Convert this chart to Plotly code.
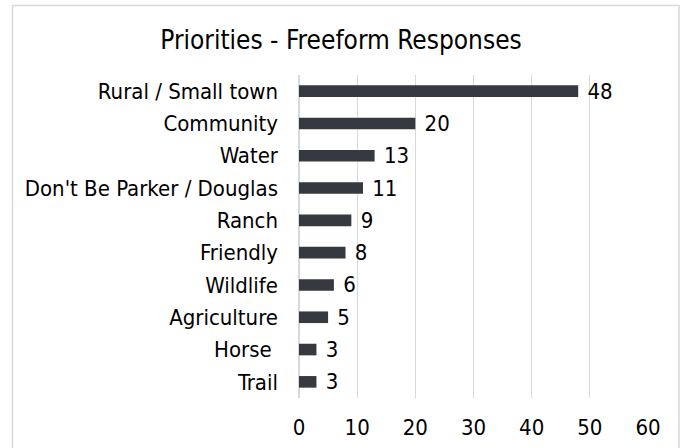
import plotly.graph_objects as go

categories = ["Rural / Small town", "Community", "Water", "Don't Be Parker / Douglas",
              "Ranch", "Friendly", "Wildlife", "Agriculture", "Horse ", "Trail"]
counts = [48, 20, 13, 11, 9, 8, 6, 5, 3, 3]
x_ticks = [0, 10, 20, 30, 40, 50, 60]

FONT = "DejaVu Sans Condensed, Liberation Sans Narrow, sans-serif"
BAR = "#343a40"

fig = go.Figure(go.Bar(
    x=counts, y=categories, orientation="h",
    marker=dict(color=BAR, line=dict(width=0)),
    width=0.36,
    text=[" " + str(v) for v in counts], textposition="outside",
    constraintext="none",
    textfont=dict(family=FONT, size=22, color="#000000"),
    cliponaxis=False,
))

L, R, T, B = 299, 34, 75, 50
W, H = 682, 448
pw, ph = W - L - R, H - T - B

fig.update_layout(
    width=W, height=H,
    margin=dict(l=L, r=R, t=T, b=B, pad=0),
    paper_bgcolor="white", plot_bgcolor="white",
    title=dict(text="Priorities - Freeform Responses", x=0.5, xanchor="center",
               y=1 - 40 / H, yanchor="middle",
               font=dict(family=FONT, size=26, color="#000000")),
    xaxis=dict(range=[0, 60], tickvals=x_ticks, showgrid=True,
               gridcolor="#d9d9d9", gridwidth=1, zeroline=True,
               zerolinecolor="#d9d9d9", showline=False, ticks="",
               tickfont=dict(family=FONT, size=22, color="#000000"),
               ticklabelstandoff=14, automargin=False),
    yaxis=dict(autorange="reversed", showgrid=False, ticks="", showline=False,
               tickfont=dict(family=FONT, size=22, color="#000000"),
               ticklabelstandoff=20, automargin=False),
    showlegend=False,
    bargap=0.64,
    shapes=[dict(type="rect", xref="paper", yref="paper",
                 x0=(12.5 - L) / pw, x1=(679 - L) / pw,
                 y0=(H - B - 470) / ph, y1=(H - B - 5.5) / ph,
                 line=dict(color="#d9d9d9", width=1.5), fillcolor="rgba(0,0,0,0)",
                 layer="below")],
)

fig.write_html("out.html")
